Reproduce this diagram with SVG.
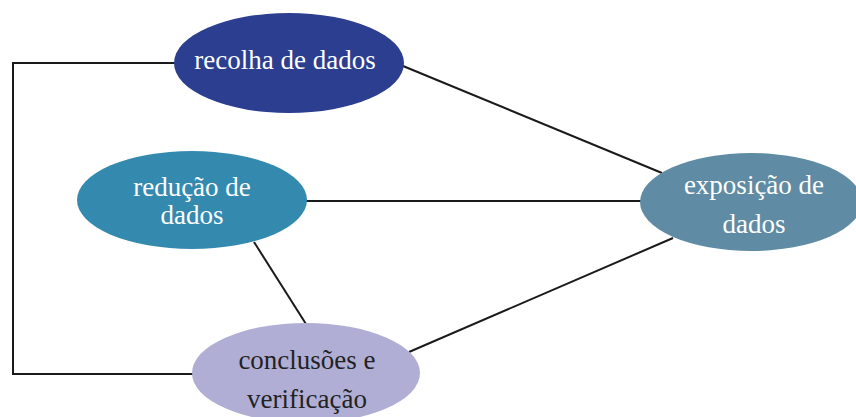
<svg xmlns="http://www.w3.org/2000/svg" width="856" height="417" viewBox="0 0 856 417">
<style>
.t{font-family:"Liberation Serif","DejaVu Serif",serif;font-size:27px;text-anchor:middle}
.w{fill:#ffffff}
.d{fill:#222222}
.c{stroke:#1a1a1a;stroke-width:2;fill:none}
</style>
<rect width="856" height="417" fill="#ffffff"/>
<g id="connectors">
<polyline class="c" points="176,63 13,63 13,374 194,374"/>
<line class="c" x1="403" y1="66" x2="662" y2="173"/>
<line class="c" x1="306" y1="201" x2="641" y2="201"/>
<line class="c" x1="254" y1="242" x2="306" y2="324"/>
<line class="c" x1="409" y1="352" x2="673" y2="238"/>
</g>
<g id="recolha">
<ellipse cx="289" cy="63" rx="115" ry="50" fill="#2b3e90"/>
<text class="t w" x="285" y="69">recolha de dados</text>
</g>
<g id="reducao">
<ellipse cx="192" cy="200" rx="115" ry="49" fill="#3389ae"/>
<text class="t w" x="192" y="196">redução de</text>
<text class="t w" x="192" y="224">dados</text>
</g>
<g id="exposicao">
<ellipse cx="751" cy="202" rx="111" ry="49" fill="#5f8ca4"/>
<text class="t w" x="754" y="194">exposição de</text>
<text class="t w" x="754" y="233">dados</text>
</g>
<g id="conclusoes">
<ellipse cx="306" cy="373" rx="114" ry="50" fill="#b0aed4"/>
<text class="t d" x="307" y="369">conclusões e</text>
<text class="t d" x="307" y="408">verificação</text>
</g>
</svg>
